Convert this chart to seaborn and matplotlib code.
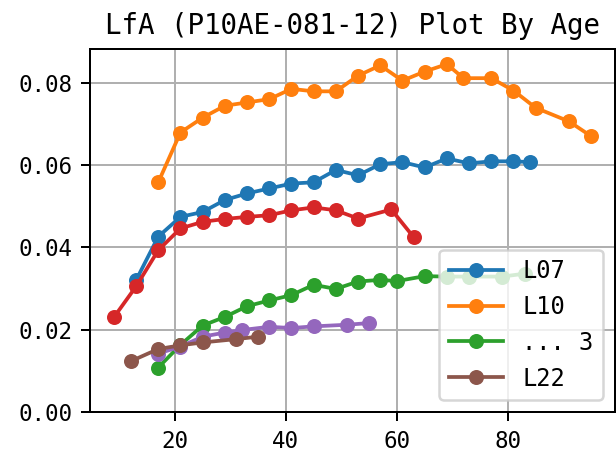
import matplotlib
matplotlib.use("Agg")
import matplotlib.pyplot as plt
import seaborn as sns

# values (age -> LfA)
ages_l07 = [13, 17, 21, 25, 29, 33, 37, 41, 45, 49, 53, 57, 61, 65, 69, 73, 77, 81, 84]
lfa_l07 = [0.0320, 0.0426, 0.0474, 0.0486, 0.0515, 0.0531, 0.0543, 0.0555, 0.0558, 0.0588,
           0.0575, 0.0602, 0.0607, 0.0594, 0.0616, 0.0604, 0.0609, 0.0609, 0.0607]

ages_l10 = [17, 21, 25, 29, 33, 37, 41, 45, 49, 53, 57, 61, 65, 69, 72, 77, 81, 85, 91, 95]
lfa_l10 = [0.0558, 0.0679, 0.0715, 0.0744, 0.0752, 0.0760, 0.0785, 0.0779, 0.0779, 0.0817,
           0.0842, 0.0805, 0.0827, 0.0845, 0.0811, 0.0811, 0.0781, 0.0739, 0.0706, 0.0670]

ages_g3 = [17, 21, 25, 29, 33, 37, 41, 45, 49, 53, 57, 60, 65, 69, 73, 79, 83]
lfa_g3 = [0.0108, 0.0163, 0.0210, 0.0231, 0.0257, 0.0271, 0.0284, 0.0309, 0.0299, 0.0317,
          0.0321, 0.0318, 0.0330, 0.0329, 0.0329, 0.0329, 0.0336]

ages_red = [9, 13, 17, 21, 25, 29, 33, 37, 41, 45, 49, 53, 59, 63]
lfa_red = [0.0230, 0.0305, 0.0393, 0.0446, 0.0462, 0.0469, 0.0474, 0.0478, 0.0490, 0.0497,
           0.0490, 0.0470, 0.0492, 0.0425]

ages_purple = [17, 21, 25, 29, 32, 37, 41, 45, 51, 55]
lfa_purple = [0.0142, 0.0159, 0.0183, 0.0193, 0.0199, 0.0207, 0.0204, 0.0208, 0.0212, 0.0216]

ages_l22 = [12, 17, 21, 25, 31, 35]
lfa_l22 = [0.0123, 0.0153, 0.0162, 0.0169, 0.0177, 0.0183]

series = [
    (ages_l07, lfa_l07, "C0", "L07"),
    (ages_l10, lfa_l10, "C1", "L10"),
    (ages_g3, lfa_g3, "C2", "... 3"),
    (ages_red, lfa_red, "C3", None),
    (ages_purple, lfa_purple, "C4", None),
    (ages_l22, lfa_l22, "C5", "L22"),
]

plt.rcParams["font.family"] = ["DejaVu Sans Mono"]

fig = plt.figure(figsize=(616 / 180, 455 / 180), dpi=180)
ax = fig.add_axes([90 / 616, 43 / 455, 525 / 616, 363 / 455])

for x, y, color, label in series:
    sns.lineplot(x=x, y=y, ax=ax, color=color, marker="o", markersize=6,
                 markeredgewidth=0, linewidth=1.5,
                 label=label if label else "_nolegend_", legend=False)

ax.set_ylim(bottom=0)
ax.grid(True)
ax.set_axisbelow(True)
ax.tick_params(labelsize=9)
ax.set_title("LfA (P10AE-081-12) Plot By Age", fontsize=11)
ax.legend(loc="lower right", fontsize=9.5, handlelength=2.3)

fig.savefig("out.png", dpi=180)
